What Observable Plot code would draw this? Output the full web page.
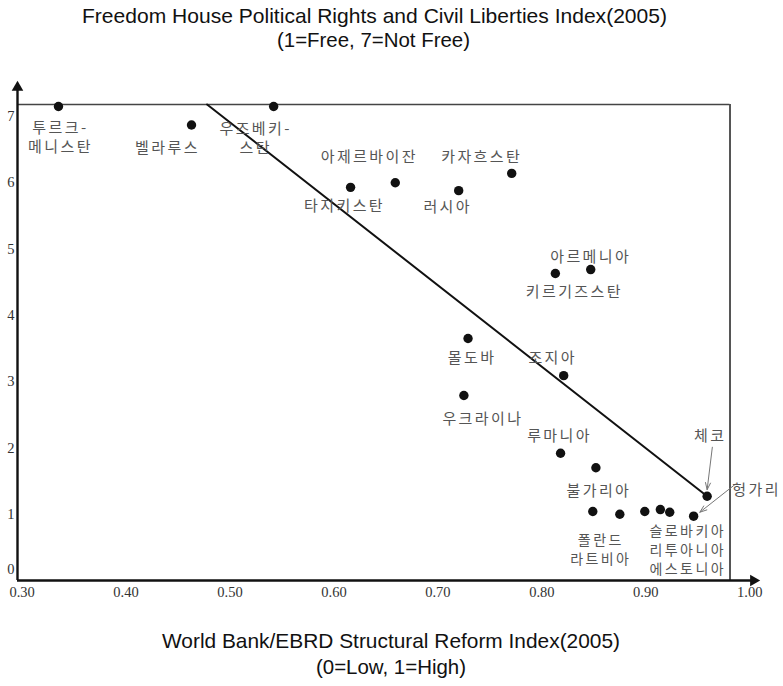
<!DOCTYPE html>
<html><head><meta charset="utf-8">
<script src="https://cdn.jsdelivr.net/npm/d3@7"></script>
<script src="https://cdn.jsdelivr.net/npm/@observablehq/plot@0.6"></script>
<style>body{margin:0;background:#fff;} svg{display:block}</style>
</head><body><div id="chart"></div>
<script>
// ---- data ----
const countries = ["투르크메니스탄","벨라루스","우즈베키스탄","타지키스탄","아제르바이잔","러시아","카자흐스탄",
  "키르기즈스탄","아르메니아","몰도바","조지아","우크라이나","루마니아","불가리아","체코","헝가리",
  "폴란드","라트비아","슬로바키아","리투아니아","에스토니아"];
const labels = ["투르크-\n메니스탄","벨라루스","우즈베키-\n스탄","타지키스탄","아제르바이잔","러시아","카자흐스탄",
  "키르기즈스탄","아르메니아","몰도바","조지아","우크라이나","루마니아","불가리아","체코","헝가리",
  "폴란드","라트비아","슬로바키아","리투아니아","에스토니아"];
const reformIndex  = [0.335,0.463,0.542,0.616,0.659,0.720,0.771,0.813,0.847,0.729,0.821,0.725,0.818,0.852,0.959,0.946,0.849,0.875,0.899,0.914,0.923];
const freedomIndex = [7.15,6.87,7.15,5.93,6.00,5.88,6.14,4.63,4.69,3.65,3.09,2.79,1.92,1.70,1.27,0.97,1.04,1.00,1.04,1.07,1.03];
const trendX = [0.478, 0.959];
const trendY = [7.18, 1.27];
const xTicks = [0.30,0.40,0.50,0.60,0.70,0.80,0.90,1.00];
const yTicks = [0,1,2,3,4,5,6,7];
// annotation arrows (label -> point), data units
const arrowFromX = [0.964, 0.986];
const arrowFromY = [2.01, 1.45];
const arrowToX   = [0.959, 0.952];
const arrowToY   = [1.37, 1.03];
// countries whose labels are printed as one stacked block (first member anchors the block)
const stackedLabels = [["폴란드","라트비아"], ["슬로바키아","리투아니아","에스토니아"]];

// ---- layout (pixels) ----
const labelOffset = {
  "투르크메니스탄":[2,30],"벨라루스":[-24,22],"우즈베키스탄":[-18,31],"타지키스탄":[-6,18],
  "아제르바이잔":[-26,-27],"러시아":[-11,15],"카자흐스탄":[-30,-18],"키르기즈스탄":[19,17],
  "아르메니아":[0,-14],"몰도바":[4,18],"조지아":[-11,-19],"우크라이나":[19,22],"루마니아":[-1,-18],
  "불가리아":[3,22],"체코":[3,-61],"헝가리":[63,-27],"폴란드":[8,37],"슬로바키아":[43,37]
};
const xMin = 0.2956, xMax = 1.0036, yMax = 7.436;
const frameTop = 7.18, frameRight = 0.981;

const points = countries.map((c,i)=>({name:c, label:labels[i], x:reformIndex[i], y:freedomIndex[i]}));
const trend = trendX.map((x,i)=>({x, y:trendY[i]}));
const arrows = arrowFromX.map((x,i)=>({x1:x, y1:arrowFromY[i], x2:arrowToX[i], y2:arrowToY[i]}));

// build label items: single labels + stacked blocks
const inStack = new Set(stackedLabels.flat());
const labelItems = points.filter(p => !inStack.has(p.name)).map(p => ({...p}));
for (const group of stackedLabels) {
  const anchor = points.find(p => p.name === group[0]);
  labelItems.push({...anchor, label: group.map(n => points.find(p => p.name === n).label).join("\n"), stacked: true});
}

const root = document.getElementById("chart");

// title
const title = d3.create("svg").attr("width",783).attr("height",70);
const tStyle = s => s.attr("font-family","'Liberation Sans', Arial, sans-serif").attr("font-size",21)
  .attr("fill","#111").attr("lengthAdjust","spacingAndGlyphs");
title.append("text").attr("x",82).attr("y",23).attr("textLength",585).call(tStyle)
  .text("Freedom House Political Rights and Civil Liberties Index(2005)");
title.append("text").attr("x",277).attr("y",47).attr("textLength",193).call(tStyle)
  .text("(1=Free, 7=Not Free)");
root.appendChild(title.node());

const yFmt = d3.format("d");
const marks = [
  Plot.axisX(xTicks, {tickFormat: d3.format(".2f"), tickSize: 0, tickPadding: 6, label: null}),
  Plot.axisY(yTicks.filter(t => t > 0), {tickFormat: yFmt, tickSize: 0, tickPadding: 3, label: null}),
  Plot.axisY(yTicks.filter(t => t === 0), {tickFormat: yFmt, tickSize: 0, tickPadding: 3, dy: -11, label: null}),
  Plot.ruleY([frameTop], {x1: xMin, x2: frameRight, stroke:"#444", strokeWidth:1.6}),
  Plot.ruleX([frameRight], {y1: 0, y2: frameTop, stroke:"#444", strokeWidth:1.8}),
  Plot.ruleX([xMin], {y1: 0, y2: yMax, stroke:"#111", strokeWidth:2.4}),
  Plot.ruleY([0], {x1: xMin, x2: xMax, stroke:"#111", strokeWidth:2.4}),
  Plot.dot([{x:xMin, y:yMax}], {x:"x", y:"y", symbol:"triangle", r:4.3, fill:"#111", stroke:"none"}),
  Plot.dot([{x:xMax, y:0}], {x:"x", y:"y", symbol:"triangle", r:4.3, fill:"#111", stroke:"none", rotate:90}),
  Plot.line(trend, {x:"x", y:"y", stroke:"#111", strokeWidth:2}),
  Plot.arrow(arrows, {x1:"x1", y1:"y1", x2:"x2", y2:"y2", stroke:"#777", strokeWidth:1, headLength:11, headAngle:40}),
  Plot.dot(points, {x:"x", y:"y", r:4.7, fill:"#111", stroke:"none"}),
  ...labelItems.map(p => Plot.text([p], {x:"x", y:"y", text:"label", dx: labelOffset[p.name][0], dy: labelOffset[p.name][1],
     fontFamily:"'Noto Sans CJK KR', sans-serif", fontSize: p.stacked ? 14 : 15, fill:"#555", lineHeight: p.stacked ? 1.36 : 1.27}))
];

const chart = Plot.plot({
  width: 783, height: 540,
  marginTop: 17, marginBottom: 30, marginLeft: 17, marginRight: 30,
  style: {fontFamily: "'Liberation Serif', 'Times New Roman', serif", fontSize: "14.5px", color: "#333", background: "white"},
  x: {domain: [xMin, xMax]},
  y: {domain: [0, yMax]},
  marks
});
// wider glyph spacing for the Korean labels, as in the reference
d3.select(chart).selectAll("g[font-family*='Noto'] text").style("letter-spacing", "2.4px");
root.appendChild(chart);

// caption
const cap = d3.create("svg").attr("width",783).attr("height",76);
cap.append("text").attr("x",162).attr("y",38).attr("textLength",458).call(tStyle)
  .text("World Bank/EBRD Structural Reform Index(2005)");
cap.append("text").attr("x",316).attr("y",64).attr("textLength",150).call(tStyle)
  .text("(0=Low, 1=High)");
root.appendChild(cap.node());
</script>
</body></html>
